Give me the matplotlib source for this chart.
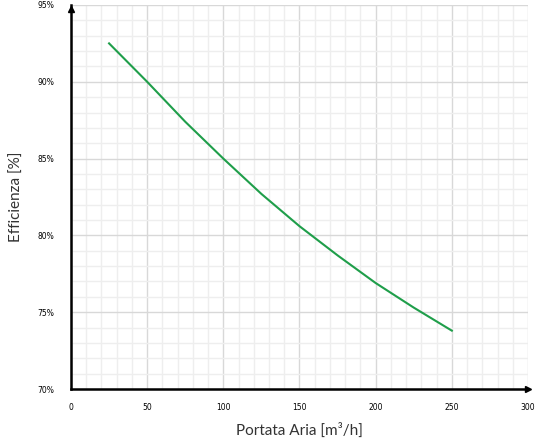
import numpy as np
import matplotlib.pyplot as plt
from matplotlib.ticker import MultipleLocator, FuncFormatter

# dati
portata = [25, 50, 75, 100, 125, 150, 175, 200, 225, 250]
efficienza = [92.5, 90.0, 87.4, 85.0, 82.7, 80.6, 78.7, 76.9, 75.3, 73.8]

X_TICKS = [0, 50, 100, 150, 200, 250, 300]
Y_TICKS = [70, 75, 80, 85, 90, 95]
VERDE = "#1f9e4a"

fig = plt.figure(figsize=(5.37, 4.41), dpi=100)
ax = fig.add_axes([0.1322, 0.1179, 0.851, 0.8708])

ax.plot(portata, efficienza, color=VERDE, linewidth=1.5)

ax.set_xlim(0, 300)
ax.set_ylim(70, 95)
ax.set_xticks(X_TICKS)
ax.set_yticks(Y_TICKS)
ax.xaxis.set_minor_locator(MultipleLocator(10))
ax.yaxis.set_minor_locator(MultipleLocator(1))
ax.yaxis.set_major_formatter(FuncFormatter(lambda v, p: f"{v:.0f}%"))

ax.grid(which="major", color="#d8d8d8", linewidth=1.0)
ax.grid(which="minor", color="#eeeeee", linewidth=1.0)
ax.set_axisbelow(True)

ax.tick_params(which="both", length=0)
ax.tick_params(axis="x", pad=10, labelsize=5.5)
ax.tick_params(axis="y", pad=12, labelsize=5.5)

ax.spines[["top", "right"]].set_visible(False)
for s in ["left", "bottom"]:
    ax.spines[s].set_linewidth(1.8)
    ax.spines[s].set_color("black")

# frecce sugli assi
ax.plot(1, 0, ">", color="black", markersize=5, transform=ax.transAxes, clip_on=False)
ax.plot(0, 0.99, "^", color="black", markersize=5, transform=ax.transAxes, clip_on=False)

ax.set_xlabel("Portata Aria [m³/h]", fontsize=11, family="Lato", color="#333333", labelpad=8)
ax.set_ylabel("Efficienza [%]", fontsize=11, family="Lato", color="#333333", labelpad=10)

plt.savefig("out.png", dpi=100)
